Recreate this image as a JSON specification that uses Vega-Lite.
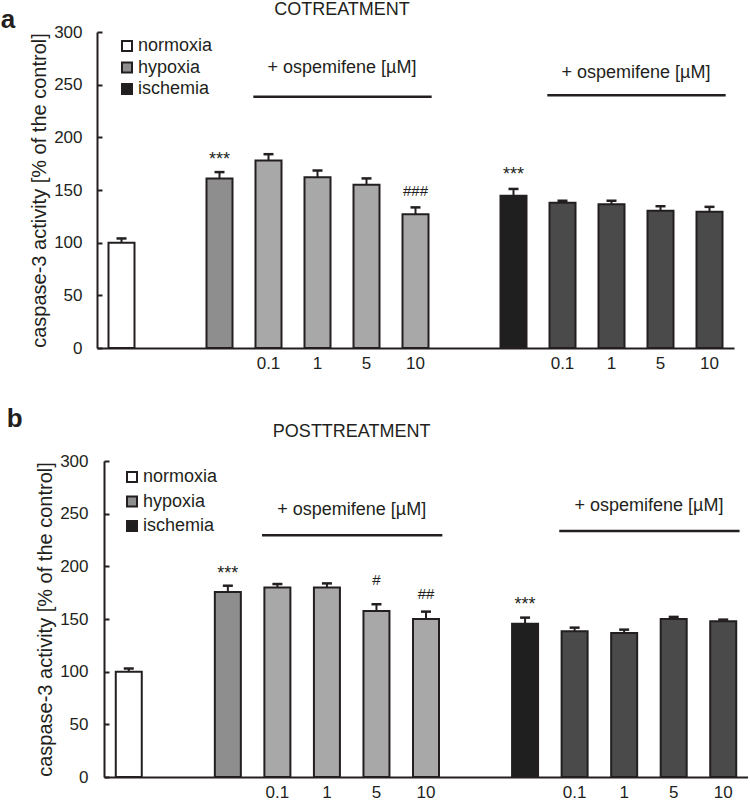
{
  "$schema": "https://vega.github.io/schema/vega-lite/v6.json",
  "background": "white",
  "padding": {"left": 0, "top": 0, "right": 0, "bottom": 0},
  "spacing": 34,
  "align": "none",
  "config": {
    "font": "Liberation Sans",
    "view": {"stroke": null},
    "axis": {
      "domainColor": "#231f20", "domainWidth": 2, "tickColor": "#231f20", "tickWidth": 2,
      "labelColor": "#231f20", "titleColor": "#231f20", "labelFont": "Liberation Sans",
      "titleFont": "Liberation Sans", "labelFontSize": 17, "grid": false
    },
    "legend": {"labelFont": "Liberation Sans", "labelColor": "#231f20"},
    "text": {"font": "Liberation Sans", "color": "#231f20"}
  },
  "resolve": {"scale": {"x": "independent", "y": "independent", "fill": "independent"}, "legend": {"fill": "independent"}},
  "datasets": {
    "bars": [
      {"panel": "a", "cat": "normoxia", "cond": "normoxia", "value": 100, "upper": 104},
      {"panel": "a", "cat": "hypoxia", "cond": "hypoxia", "value": 161, "upper": 167},
      {"panel": "a", "cat": "hypoxia 0.1", "cond": "hypoxia + ospemifene", "value": 178, "upper": 184},
      {"panel": "a", "cat": "hypoxia 1", "cond": "hypoxia + ospemifene", "value": 162, "upper": 168.5},
      {"panel": "a", "cat": "hypoxia 5", "cond": "hypoxia + ospemifene", "value": 155, "upper": 161},
      {"panel": "a", "cat": "hypoxia 10", "cond": "hypoxia + ospemifene", "value": 127, "upper": 133.5},
      {"panel": "a", "cat": "ischemia", "cond": "ischemia", "value": 144.5, "upper": 151},
      {"panel": "a", "cat": "ischemia 0.1", "cond": "ischemia + ospemifene", "value": 138, "upper": 139.8},
      {"panel": "a", "cat": "ischemia 1", "cond": "ischemia + ospemifene", "value": 136.4, "upper": 139.8},
      {"panel": "a", "cat": "ischemia 5", "cond": "ischemia + ospemifene", "value": 130.4, "upper": 134.6},
      {"panel": "a", "cat": "ischemia 10", "cond": "ischemia + ospemifene", "value": 129.4, "upper": 134},
      {"panel": "b", "cat": "normoxia", "cond": "normoxia", "value": 100, "upper": 103},
      {"panel": "b", "cat": "hypoxia", "cond": "hypoxia", "value": 175.6, "upper": 181.6},
      {"panel": "b", "cat": "hypoxia 0.1", "cond": "hypoxia + ospemifene", "value": 180, "upper": 183.2},
      {"panel": "b", "cat": "hypoxia 1", "cond": "hypoxia + ospemifene", "value": 180, "upper": 183.8},
      {"panel": "b", "cat": "hypoxia 5", "cond": "hypoxia + ospemifene", "value": 157.5, "upper": 164},
      {"panel": "b", "cat": "hypoxia 10", "cond": "hypoxia + ospemifene", "value": 150, "upper": 157},
      {"panel": "b", "cat": "ischemia", "cond": "ischemia", "value": 145.6, "upper": 151.3},
      {"panel": "b", "cat": "ischemia 0.1", "cond": "ischemia + ospemifene", "value": 138.3, "upper": 141.8},
      {"panel": "b", "cat": "ischemia 1", "cond": "ischemia + ospemifene", "value": 136.7, "upper": 139.9},
      {"panel": "b", "cat": "ischemia 5", "cond": "ischemia + ospemifene", "value": 150, "upper": 152},
      {"panel": "b", "cat": "ischemia 10", "cond": "ischemia + ospemifene", "value": 147.8, "upper": 149.4}
    ],
    "notes": [
      {"panel": "a", "cat": "hypoxia", "label": "***", "y": 180},
      {"panel": "a", "cat": "hypoxia 10", "label": "###", "y": 149},
      {"panel": "a", "cat": "ischemia", "label": "***", "y": 166},
      {"panel": "b", "cat": "hypoxia", "label": "***", "y": 195},
      {"panel": "b", "cat": "hypoxia 5", "label": "#", "y": 187},
      {"panel": "b", "cat": "hypoxia 10", "label": "##", "y": 173.5},
      {"panel": "b", "cat": "ischemia", "label": "***", "y": 165.5}
    ],
    "groups": [
      {"panel": "a", "start": "hypoxia 0.1", "end": "hypoxia 10", "mid": "hypoxia 1", "lineY": 238.5, "textY": 265.5, "label": "+ ospemifene [µM]"},
      {"panel": "a", "start": "ischemia 0.1", "end": "ischemia 10", "mid": "ischemia 1", "lineY": 240, "textY": 261, "label": "+ ospemifene [µM]"},
      {"panel": "b", "start": "hypoxia 0.1", "end": "hypoxia 10", "mid": "hypoxia 1", "lineY": 229.5, "textY": 253.5, "label": "+ ospemifene [µM]"},
      {"panel": "b", "start": "ischemia 0.1", "end": "ischemia 10", "mid": "ischemia 1", "lineY": 233.5, "textY": 257, "label": "+ ospemifene [µM]"}
    ],
    "heads": [
      {"panel": "a", "cat": "hypoxia 1", "y": 321, "label": "COTREATMENT"},
      {"panel": "b", "cat": "hypoxia 1", "y": 328, "label": "POSTTREATMENT"}
    ]
  },
  "vconcat": [
    {
      "title": {"text": "a", "anchor": "start", "frame": "bounds", "fontSize": 26, "fontWeight": "bold", "color": "#231f20", "dx": -29, "offset": -32},
      "width": 637,
      "height": 316,
      "layer": [
        {
          "data": {"name": "bars"},
          "transform": [{"filter": "datum.panel == 'a'"}],
          "mark": {"type": "rule", "strokeWidth": 2, "color": "#231f20"},
          "encoding": {
            "x": {"field": "cat", "type": "nominal", "sort": null, "scale": {"domain": ["normoxia", "gap1", "hypoxia", "hypoxia 0.1", "hypoxia 1", "hypoxia 5", "hypoxia 10", "gap2", "ischemia", "ischemia 0.1", "ischemia 1", "ischemia 5", "ischemia 10"], "paddingInner": 0, "paddingOuter": 0},
              "axis": {"title": null, "ticks": false, "labelAngle": 0, "labelPadding": 7, "labelExpr": "indexof(datum.value, ' ') > 0 ? split(datum.value, ' ')[1] : ''"}},
            "y": {"field": "value", "type": "quantitative", "scale": {"domain": [0, 300]},
              "axis": {"title": "caspase-3 activity [% of the control]", "titleFontSize": 20, "titleFontWeight": "normal", "titlePadding": 4, "values": [0, 50, 100, 150, 200, 250, 300], "tickSize": -5, "labelPadding": 20}},
            "y2": {"field": "upper"}
          }
        },
        {
          "data": {"name": "bars"},
          "transform": [{"filter": "datum.panel == 'a'"}],
          "mark": {"type": "tick", "orient": "horizontal", "size": 10, "thickness": 2.5, "color": "#231f20", "opacity": 1},
          "encoding": {
            "x": {"field": "cat", "type": "nominal", "sort": null, "scale": {"domain": ["normoxia", "gap1", "hypoxia", "hypoxia 0.1", "hypoxia 1", "hypoxia 5", "hypoxia 10", "gap2", "ischemia", "ischemia 0.1", "ischemia 1", "ischemia 5", "ischemia 10"]}},
            "y": {"field": "upper", "type": "quantitative"}
          }
        },
        {
          "data": {"name": "bars"},
          "transform": [{"filter": "datum.panel == 'a'"}],
          "mark": {"type": "bar", "width": 26, "stroke": "#231f20", "strokeWidth": 2},
          "encoding": {
            "x": {"field": "cat", "type": "nominal", "sort": null, "scale": {"domain": ["normoxia", "gap1", "hypoxia", "hypoxia 0.1", "hypoxia 1", "hypoxia 5", "hypoxia 10", "gap2", "ischemia", "ischemia 0.1", "ischemia 1", "ischemia 5", "ischemia 10"]}},
            "y": {"field": "value", "type": "quantitative"},
            "fill": {"field": "cond", "type": "nominal",
              "scale": {"domain": ["normoxia", "hypoxia", "ischemia", "hypoxia + ospemifene", "ischemia + ospemifene"], "range": ["#ffffff", "#8e8e8e", "#1f1f1f", "#a8a8a8", "#4a4a4a"]},
              "legend": {"values": ["normoxia", "hypoxia", "ischemia"], "title": null, "orient": "none", "legendX": 21, "legendY": 5, "symbolType": "square", "symbolSize": 100, "symbolStrokeColor": "#231f20", "symbolStrokeWidth": 2, "labelFontSize": 18, "rowPadding": 3.5, "labelOffset": 2, "symbolOpacity": 1}}
          }
        },
        {
          "data": {"name": "notes"},
          "transform": [{"filter": "datum.panel == 'a' && datum.label == '***'"}],
          "mark": {"type": "text", "fontSize": 18, "baseline": "middle", "align": "center", "dy": 2},
          "encoding": {
            "x": {"field": "cat", "type": "nominal", "sort": null, "scale": {"domain": ["normoxia", "gap1", "hypoxia", "hypoxia 0.1", "hypoxia 1", "hypoxia 5", "hypoxia 10", "gap2", "ischemia", "ischemia 0.1", "ischemia 1", "ischemia 5", "ischemia 10"]}},
            "y": {"field": "y", "type": "quantitative"},
            "text": {"field": "label"}
          }
        },
        {
          "data": {"name": "notes"},
          "transform": [{"filter": "datum.panel == 'a' && datum.label != '***'"}],
          "mark": {"type": "text", "fontSize": 15, "baseline": "middle", "align": "center"},
          "encoding": {
            "x": {"field": "cat", "type": "nominal", "sort": null, "scale": {"domain": ["normoxia", "gap1", "hypoxia", "hypoxia 0.1", "hypoxia 1", "hypoxia 5", "hypoxia 10", "gap2", "ischemia", "ischemia 0.1", "ischemia 1", "ischemia 5", "ischemia 10"]}},
            "y": {"field": "y", "type": "quantitative"},
            "text": {"field": "label"}
          }
        },
        {
          "data": {"name": "groups"},
          "transform": [{"filter": "datum.panel == 'a'"}],
          "mark": {"type": "rule", "strokeWidth": 2.5, "color": "#231f20"},
          "encoding": {
            "x": {"field": "start", "type": "nominal", "sort": null, "bandPosition": 0.19, "scale": {"domain": ["normoxia", "gap1", "hypoxia", "hypoxia 0.1", "hypoxia 1", "hypoxia 5", "hypoxia 10", "gap2", "ischemia", "ischemia 0.1", "ischemia 1", "ischemia 5", "ischemia 10"]}},
            "x2": {"field": "end", "bandPosition": 0.83},
            "y": {"field": "lineY", "type": "quantitative"}
          }
        },
        {
          "data": {"name": "groups"},
          "transform": [{"filter": "datum.panel == 'a'"}],
          "mark": {"type": "text", "fontSize": 18, "baseline": "middle", "align": "center"},
          "encoding": {
            "x": {"field": "mid", "type": "nominal", "sort": null, "bandPosition": 1, "scale": {"domain": ["normoxia", "gap1", "hypoxia", "hypoxia 0.1", "hypoxia 1", "hypoxia 5", "hypoxia 10", "gap2", "ischemia", "ischemia 0.1", "ischemia 1", "ischemia 5", "ischemia 10"]}},
            "y": {"field": "textY", "type": "quantitative"},
            "text": {"field": "label"}
          }
        },
        {
          "data": {"name": "heads"},
          "transform": [{"filter": "datum.panel == 'a'"}],
          "mark": {"type": "text", "fontSize": 18, "baseline": "middle", "align": "center"},
          "encoding": {
            "x": {"field": "cat", "type": "nominal", "sort": null, "bandPosition": 1, "scale": {"domain": ["normoxia", "gap1", "hypoxia", "hypoxia 0.1", "hypoxia 1", "hypoxia 5", "hypoxia 10", "gap2", "ischemia", "ischemia 0.1", "ischemia 1", "ischemia 5", "ischemia 10"]}},
            "y": {"field": "y", "type": "quantitative"},
            "text": {"field": "label"}
          }
        }
      ]
    },
    {
      "title": {"text": "b", "anchor": "start", "frame": "bounds", "fontSize": 26, "fontWeight": "bold", "color": "#231f20", "dx": -29, "offset": -9},
      "width": 651,
      "height": 316,
      "layer": [
        {
          "data": {"name": "bars"},
          "transform": [{"filter": "datum.panel == 'b'"}],
          "mark": {"type": "rule", "strokeWidth": 2, "color": "#231f20"},
          "encoding": {
            "x": {"field": "cat", "type": "nominal", "sort": null, "scale": {"domain": ["normoxia", "gap1", "hypoxia", "hypoxia 0.1", "hypoxia 1", "hypoxia 5", "hypoxia 10", "gap2", "ischemia", "ischemia 0.1", "ischemia 1", "ischemia 5", "ischemia 10"], "range": [7, 651], "paddingInner": 0, "paddingOuter": 0},
              "axis": {"title": null, "ticks": false, "labelAngle": 0, "labelPadding": 7, "labelExpr": "indexof(datum.value, ' ') > 0 ? split(datum.value, ' ')[1] : ''"}},
            "y": {"field": "value", "type": "quantitative", "scale": {"domain": [0, 300]},
              "axis": {"title": "caspase-3 activity [% of the control]", "titleFontSize": 20, "titleFontWeight": "normal", "titlePadding": 4, "offset": -7, "values": [0, 50, 100, 150, 200, 250, 300], "tickSize": -5, "labelPadding": 21}},
            "y2": {"field": "upper"}
          }
        },
        {
          "data": {"name": "bars"},
          "transform": [{"filter": "datum.panel == 'b'"}],
          "mark": {"type": "tick", "orient": "horizontal", "size": 10, "thickness": 2.5, "color": "#231f20", "opacity": 1},
          "encoding": {
            "x": {"field": "cat", "type": "nominal", "sort": null, "scale": {"domain": ["normoxia", "gap1", "hypoxia", "hypoxia 0.1", "hypoxia 1", "hypoxia 5", "hypoxia 10", "gap2", "ischemia", "ischemia 0.1", "ischemia 1", "ischemia 5", "ischemia 10"]}},
            "y": {"field": "upper", "type": "quantitative"}
          }
        },
        {
          "data": {"name": "bars"},
          "transform": [{"filter": "datum.panel == 'b'"}],
          "mark": {"type": "bar", "width": 26, "stroke": "#231f20", "strokeWidth": 2},
          "encoding": {
            "x": {"field": "cat", "type": "nominal", "sort": null, "scale": {"domain": ["normoxia", "gap1", "hypoxia", "hypoxia 0.1", "hypoxia 1", "hypoxia 5", "hypoxia 10", "gap2", "ischemia", "ischemia 0.1", "ischemia 1", "ischemia 5", "ischemia 10"]}},
            "y": {"field": "value", "type": "quantitative"},
            "fill": {"field": "cond", "type": "nominal",
              "scale": {"domain": ["normoxia", "hypoxia", "ischemia", "hypoxia + ospemifene", "ischemia + ospemifene"], "range": ["#ffffff", "#8e8e8e", "#1f1f1f", "#a8a8a8", "#4a4a4a"]},
              "legend": {"values": ["normoxia", "hypoxia", "ischemia"], "title": null, "orient": "none", "legendX": 26, "legendY": 7, "symbolType": "square", "symbolSize": 100, "symbolStrokeColor": "#231f20", "symbolStrokeWidth": 2, "labelFontSize": 18, "rowPadding": 6.5, "labelOffset": 2, "symbolOpacity": 1}}
          }
        },
        {
          "data": {"name": "notes"},
          "transform": [{"filter": "datum.panel == 'b' && datum.label == '***'"}],
          "mark": {"type": "text", "fontSize": 18, "baseline": "middle", "align": "center", "dy": 2},
          "encoding": {
            "x": {"field": "cat", "type": "nominal", "sort": null, "scale": {"domain": ["normoxia", "gap1", "hypoxia", "hypoxia 0.1", "hypoxia 1", "hypoxia 5", "hypoxia 10", "gap2", "ischemia", "ischemia 0.1", "ischemia 1", "ischemia 5", "ischemia 10"]}},
            "y": {"field": "y", "type": "quantitative"},
            "text": {"field": "label"}
          }
        },
        {
          "data": {"name": "notes"},
          "transform": [{"filter": "datum.panel == 'b' && datum.label != '***'"}],
          "mark": {"type": "text", "fontSize": 15, "baseline": "middle", "align": "center"},
          "encoding": {
            "x": {"field": "cat", "type": "nominal", "sort": null, "scale": {"domain": ["normoxia", "gap1", "hypoxia", "hypoxia 0.1", "hypoxia 1", "hypoxia 5", "hypoxia 10", "gap2", "ischemia", "ischemia 0.1", "ischemia 1", "ischemia 5", "ischemia 10"]}},
            "y": {"field": "y", "type": "quantitative"},
            "text": {"field": "label"}
          }
        },
        {
          "data": {"name": "groups"},
          "transform": [{"filter": "datum.panel == 'b'"}],
          "mark": {"type": "rule", "strokeWidth": 2.5, "color": "#231f20"},
          "encoding": {
            "x": {"field": "start", "type": "nominal", "sort": null, "bandPosition": 0.19, "scale": {"domain": ["normoxia", "gap1", "hypoxia", "hypoxia 0.1", "hypoxia 1", "hypoxia 5", "hypoxia 10", "gap2", "ischemia", "ischemia 0.1", "ischemia 1", "ischemia 5", "ischemia 10"]}},
            "x2": {"field": "end", "bandPosition": 0.83},
            "y": {"field": "lineY", "type": "quantitative"}
          }
        },
        {
          "data": {"name": "groups"},
          "transform": [{"filter": "datum.panel == 'b'"}],
          "mark": {"type": "text", "fontSize": 18, "baseline": "middle", "align": "center"},
          "encoding": {
            "x": {"field": "mid", "type": "nominal", "sort": null, "bandPosition": 1, "scale": {"domain": ["normoxia", "gap1", "hypoxia", "hypoxia 0.1", "hypoxia 1", "hypoxia 5", "hypoxia 10", "gap2", "ischemia", "ischemia 0.1", "ischemia 1", "ischemia 5", "ischemia 10"]}},
            "y": {"field": "textY", "type": "quantitative"},
            "text": {"field": "label"}
          }
        },
        {
          "data": {"name": "heads"},
          "transform": [{"filter": "datum.panel == 'b'"}],
          "mark": {"type": "text", "fontSize": 18, "baseline": "middle", "align": "center"},
          "encoding": {
            "x": {"field": "cat", "type": "nominal", "sort": null, "bandPosition": 1, "scale": {"domain": ["normoxia", "gap1", "hypoxia", "hypoxia 0.1", "hypoxia 1", "hypoxia 5", "hypoxia 10", "gap2", "ischemia", "ischemia 0.1", "ischemia 1", "ischemia 5", "ischemia 10"]}},
            "y": {"field": "y", "type": "quantitative"},
            "text": {"field": "label"}
          }
        }
      ]
    }
  ]
}
